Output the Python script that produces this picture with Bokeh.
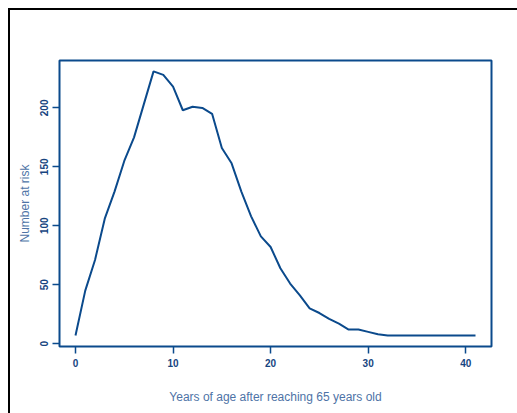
from bokeh.plotting import figure
from bokeh.models import Range1d, FixedTicker
from bokeh.embed import file_html
from bokeh.resources import INLINE

years = list(range(0, 42))
at_risk = [7, 45, 71, 106, 129, 155, 175, 203, 231, 228, 218, 198, 201, 200, 195,
           166, 153, 129, 108, 91, 82, 64, 51, 41, 30, 26, 21, 17, 12, 12, 10, 8,
           7, 7, 7, 7, 7, 7, 7, 7, 7, 7]
x_ticks = [0, 10, 20, 30, 40]
y_ticks = [0, 50, 100, 150, 200]
x_title = "Years of age after reaching 65 years old"
y_title = "Number at risk"

LINE = "#0b4a8c"
TICK = "#17457f"
TITLE = "#4e73a6"

p = figure(width=509, height=405, output_backend="svg", toolbar_location=None,
           x_range=Range1d(-1.64, 42.64), y_range=Range1d(-2.4, 240.2),
           min_border_left=51, min_border_right=26, min_border_top=52, min_border_bottom=67)
p.border_fill_color = None
p.styles = {"box-shadow": "inset 2px 2px 0 0 black",
            "margin-left": "8px", "margin-top": "8px"}

p.line(years, at_risk, line_color=LINE, line_width=2)

p.grid.visible = False
p.outline_line_color = LINE
p.outline_line_width = 2
p.outline_line_alpha = 1

for ax in (p.xaxis[0], p.yaxis[0]):
    ax.axis_line_color = None
    ax.major_tick_in = 0
    ax.major_tick_out = 7
    ax.major_tick_line_color = LINE
    ax.major_tick_line_width = 1.5
    ax.minor_tick_line_color = None
    ax.major_label_text_color = TICK
    ax.major_label_text_font = "Liberation Sans"
    ax.major_label_text_font_style = "bold"
    ax.major_label_text_font_size = "10px"
    ax.axis_label_text_color = TITLE
    ax.axis_label_text_font = "Liberation Sans"
    ax.axis_label_text_font_style = "normal"
    ax.axis_label_text_font_size = "12px"

p.xaxis.ticker = FixedTicker(ticks=x_ticks)
p.yaxis.ticker = FixedTicker(ticks=y_ticks)
p.xaxis.axis_label = x_title
p.yaxis.axis_label = y_title
p.yaxis.major_label_orientation = "vertical"
p.xaxis.major_label_standoff = 5
p.yaxis.major_label_standoff = 4
p.xaxis.axis_label_standoff = 20
p.yaxis.axis_label_standoff = 6

open("out.html", "w").write(file_html(p, INLINE))
